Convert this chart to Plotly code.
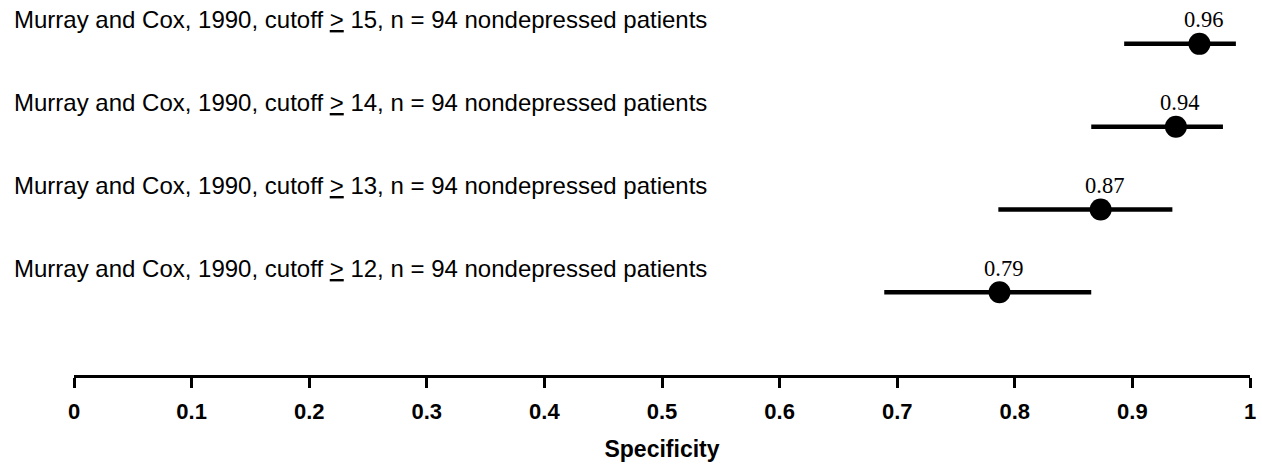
import plotly.graph_objects as go

# ---- data ----
studies = [
    "Murray and Cox, 1990, cutoff <u>&gt;</u> 15, n = 94 nondepressed patients",
    "Murray and Cox, 1990, cutoff <u>&gt;</u> 14, n = 94 nondepressed patients",
    "Murray and Cox, 1990, cutoff <u>&gt;</u> 13, n = 94 nondepressed patients",
    "Murray and Cox, 1990, cutoff <u>&gt;</u> 12, n = 94 nondepressed patients",
]
specificity = [0.957, 0.937, 0.873, 0.787]
ci_lower = [0.893, 0.865, 0.786, 0.689]
ci_upper = [0.988, 0.977, 0.934, 0.865]
value_labels = ["0.96", "0.94", "0.87", "0.79"]
row_pos = [4, 3, 2, 1]
tick_vals = [0, 0.1, 0.2, 0.3, 0.4, 0.5, 0.6, 0.7, 0.8, 0.9, 1]
tick_text = ["0", "0.1", "0.2", "0.3", "0.4", "0.5", "0.6", "0.7", "0.8", "0.9", "1"]
x_title = "Specificity"

err_plus = [u - v for u, v in zip(ci_upper, specificity)]
err_minus = [v - l for v, l in zip(specificity, ci_lower)]

fig = go.Figure()
fig.add_trace(go.Scatter(
    x=specificity, y=row_pos, mode="markers",
    marker=dict(size=22, color="black"),
    error_x=dict(type="data", symmetric=False, array=err_plus, arrayminus=err_minus,
                 thickness=4.5, width=0, color="black"),
    showlegend=False, hoverinfo="skip",
))

annotations = []
for s, y in zip(studies, row_pos):
    annotations.append(dict(
        text=s, xref="paper", yref="y", x=-0.0525, y=y, yshift=24,
        xanchor="left", yanchor="middle", showarrow=False,
        font=dict(family="Liberation Sans, Arial", size=24, color="black"),
    ))
for v, lab, y in zip(specificity, value_labels, row_pos):
    annotations.append(dict(
        text=lab, xref="x", yref="y", x=v, y=y, yshift=24, xshift=4,
        xanchor="center", yanchor="middle", showarrow=False,
        font=dict(family="Liberation Serif, Times New Roman", size=22.5, color="black"),
    ))

fig.update_layout(
    width=1262, height=468,
    margin=dict(l=74, r=12, t=0, b=93),
    plot_bgcolor="white", paper_bgcolor="white",
    annotations=annotations,
    xaxis=dict(
        range=[0, 1], tickvals=tick_vals, ticktext=tick_text,
        showline=True, linecolor="black", linewidth=3,
        ticks="outside", ticklen=10, tickwidth=3, tickcolor="black",
        ticklabelstandoff=5,
        showgrid=False, zeroline=False,
        tickfont=dict(family="Liberation Sans, Arial", size=22, color="black", weight="bold"),
        title=dict(text=x_title, standoff=18,
                   font=dict(family="Liberation Sans, Arial", size=23, color="black", weight="bold")),
    ),
    yaxis=dict(range=[0, 4.53], visible=False, showgrid=False, zeroline=False),
)

fig.write_html("out.html", config={"displayModeBar": False},
               post_script="document.body.style.margin='0';")
